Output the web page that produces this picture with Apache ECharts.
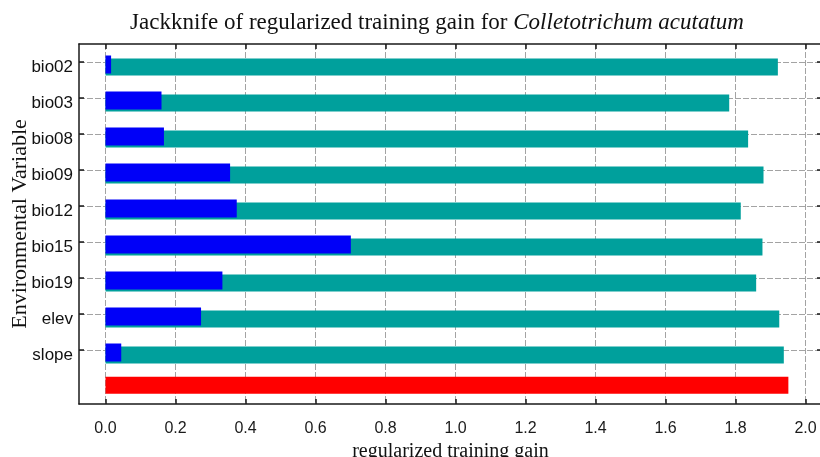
<!DOCTYPE html>
<html>
<head>
<meta charset="utf-8">
<title>Jackknife of regularized training gain</title>
<script src="https://cdn.jsdelivr.net/npm/echarts@6/dist/echarts.min.js"></script>
<style>
  html, body { margin: 0; padding: 0; background: #fff; }
  #chart { width: 820px; height: 457px; }
</style>
</head>
<body>
<div id="chart"></div>
<script>
// Environmental variables, top to bottom
const variables = ['bio02', 'bio03', 'bio08', 'bio09', 'bio12', 'bio15', 'bio19', 'elev', 'slope'];
// Key of the extra row holding the full-model bar (label not shown)
const allRowKey = 'all variables';

// Regularized training gain without each variable (teal)
const gainWithout = [1.921, 1.782, 1.836, 1.880, 1.815, 1.877, 1.859, 1.925, 1.938];
// Regularized training gain with only each variable (blue)
const gainOnly = [0.016, 0.160, 0.167, 0.356, 0.375, 0.701, 0.334, 0.273, 0.045];
// Regularized training gain with all variables (red)
const gainAll = 1.951;

// X axis tick values
const xTicks = [0.0, 0.2, 0.4, 0.6, 0.8, 1.0, 1.2, 1.4, 1.6, 1.8, 2.0];
const xMin = -0.0757;
const xMax = 2.0471;

const rows = variables.concat([allRowKey]);
const nVar = variables.length;
const pad = arr => arr.concat([null]);
const onlyLast = v => rows.map((_, i) => (i === rows.length - 1 ? v : null));
const isVarRow = idx => idx < nVar;

const serif = '"Liberation Serif", "Times New Roman", serif';
const sans = '"Liberation Sans", Arial, sans-serif';
const frameColor = '#1a1a1a';
const gridColor = '#a3a3a3';

const chart = echarts.init(document.getElementById('chart'), null, { renderer: 'canvas' });

const frameLine = { show: true, onZero: false, lineStyle: { color: frameColor, width: 1.5 } };
const tickStyle = { color: frameColor, width: 1.5 };

const option = {
  animation: false,
  backgroundColor: '#ffffff',
  title: {
    text: '{n|Jackknife of regularized training gain for }{i|Colletotrichum acutatum}',
    left: 432,
    top: 6,
    textAlign: 'center',
    textStyle: {
      rich: {
        n: { fontFamily: serif, fontSize: 23, fontWeight: 'normal', color: '#111' },
        i: { fontFamily: serif, fontSize: 23, fontWeight: 'normal', fontStyle: 'italic', color: '#111' }
      }
    }
  },
  grid: { left: 79, top: 44, right: -2, height: 360, containLabel: false, outerBoundsMode: 'none' },
  xAxis: [
    {
      type: 'value',
      position: 'bottom',
      min: xMin,
      max: xMax,
      name: 'regularized training gain',
      nameLocation: 'middle',
      nameGap: 35,
      nameTextStyle: { fontFamily: serif, fontSize: 20, color: '#111' },
      axisLine: frameLine,
      axisTick: { show: true, inside: true, length: 5, customValues: xTicks, lineStyle: tickStyle },
      axisLabel: {
        customValues: xTicks,
        margin: 17,
        fontFamily: sans,
        fontSize: 16,
        color: '#1a1a1a',
        formatter: v => Number(v).toFixed(1)
      },
      splitLine: { show: true, lineStyle: { color: gridColor, width: 1, type: [6, 2] } }
    },
    {
      type: 'value',
      position: 'top',
      min: xMin,
      max: xMax,
      axisLine: frameLine,
      axisTick: { show: true, inside: true, length: 5, customValues: xTicks, lineStyle: tickStyle },
      axisLabel: { show: false },
      splitLine: { show: false }
    }
  ],
  yAxis: [
    {
      type: 'category',
      data: rows,
      inverse: true,
      position: 'left',
      name: 'Environmental Variable',
      nameLocation: 'middle',
      nameGap: 48,
      nameMoveOverlap: false,
      nameTextStyle: { fontFamily: serif, fontSize: 22, color: '#111' },
      axisLine: frameLine,
      axisTick: { show: true, inside: true, length: 5, alignWithLabel: true, interval: isVarRow, lineStyle: tickStyle },
      axisLabel: {
        interval: isVarRow,
        margin: 6,
        formatter: v => '{v|' + v + '}',
        rich: {
          v: { fontFamily: sans, fontSize: 17, color: '#111', padding: [10, 0, 0, 0] }
        }
      },
      splitLine: { show: true, alignWithLabel: true, interval: isVarRow, lineStyle: { color: gridColor, width: 1, type: [6, 2] } }
    },
    {
      type: 'category',
      data: rows,
      inverse: true,
      position: 'right',
      axisLine: frameLine,
      axisTick: { show: true, inside: true, length: 5, alignWithLabel: true, interval: isVarRow, lineStyle: tickStyle },
      axisLabel: { show: false },
      splitLine: { show: false }
    }
  ],
  series: [
    {
      name: 'With all variables',
      type: 'bar',
      data: onlyLast(gainAll),
      barWidth: 17,
      barGap: '-83.333%',
      itemStyle: { color: '#ff0000' },
      z: 2
    },
    {
      name: 'With only variable',
      type: 'bar',
      data: pad(gainOnly),
      barWidth: 18,
      barGap: '-83.333%',
      itemStyle: { color: '#0000f8' },
      z: 4
    },
    {
      name: 'Without variable',
      type: 'bar',
      data: pad(gainWithout),
      barWidth: 17,
      barGap: '-83.333%',
      itemStyle: { color: '#00a09c' },
      z: 3
    },
    {
      // empty column that balances the bar offsets within each row
      name: 'spacer',
      type: 'bar',
      data: rows.map(() => null),
      barWidth: 10,
      barGap: '-83.333%',
      silent: true,
      itemStyle: { color: 'rgba(0,0,0,0)' }
    }
  ]
};

chart.setOption(option);
</script>
</body>
</html>
